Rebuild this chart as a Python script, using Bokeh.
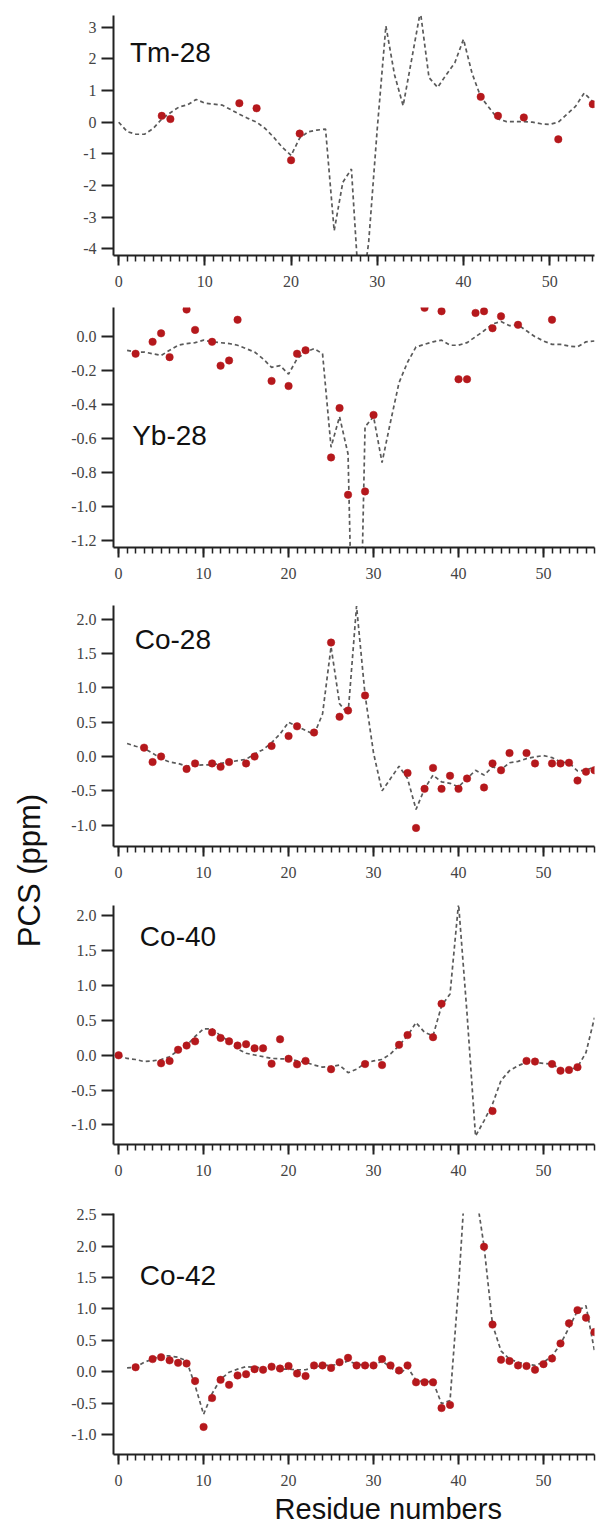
from bokeh.plotting import figure
from bokeh.models import Range1d, Label, FixedTicker, SingleIntervalTicker, CustomJSTickFormatter
from bokeh.layouts import column, row
from bokeh.embed import file_html
from bokeh.resources import INLINE

# ---------------- data ----------------
tm28_calc_res = list(range(0, 56))
tm28_calc = [0.0, -0.3, -0.38, -0.38, -0.2, 0.1, 0.3, 0.48, 0.55, 0.72,
             0.6, 0.57, 0.54, 0.4, 0.25, 0.12, 0.0, -0.2, -0.48, -0.8,
             -1.05, -0.5, -0.3, -0.25, -0.22, -3.43, -1.9, -1.48, -5.8, -3.8,
             -0.2, 3.04, 1.5, 0.52, 2.0, 3.5, 1.41, 1.1, 1.5, 1.88,
             2.62, 1.54, 0.8, 0.45, 0.1, 0.02, 0.02, 0.02, 0.0, -0.05,
             -0.07, 0.0, 0.25, 0.5, 0.92, 0.65]
tm28_obs_res = [5, 6, 14, 16, 20, 21, 42, 44, 47, 51, 55]
tm28_obs = [0.2, 0.1, 0.6, 0.44, -1.2, -0.36, 0.8, 0.2, 0.15, -0.54, 0.57]

yb28_calc_res = list(range(1, 57))
yb28_calc = [-0.08, -0.09, -0.09, -0.1, -0.11, -0.08, -0.05, -0.04, -0.035, -0.02,
             -0.03, -0.035, -0.04, -0.05, -0.07, -0.09, -0.13, -0.18, -0.17, -0.22,
             -0.13, -0.09, -0.07, -0.1, -0.65, -0.47, -0.69, -2.9, -0.53, -0.47,
             -0.74, -0.5, -0.27, -0.15, -0.06, -0.045, -0.03, -0.02, -0.05, -0.05,
             -0.035, 0.0, 0.035, 0.075, 0.09, 0.065, 0.07, 0.035, 0.0, -0.025,
             -0.045, -0.045, -0.055, -0.06, -0.03, -0.025]
yb28_obs_res = [2, 4, 5, 6, 8, 9, 11, 12, 13, 14, 18, 20, 21, 22, 25, 26, 27, 29, 30,
                36, 38, 40, 41, 42, 43, 44, 45, 47, 51]
yb28_obs = [-0.1, -0.03, 0.02, -0.12, 0.16, 0.04, -0.03, -0.17, -0.14, 0.1,
            -0.26, -0.29, -0.1, -0.08, -0.71, -0.42, -0.93, -0.91, -0.46,
            0.17, 0.15, -0.25, -0.25, 0.14, 0.15, 0.05, 0.12, 0.07, 0.1]

co28_calc_res = list(range(1, 57))
co28_calc = [0.19, 0.15, 0.12, 0.05, -0.03, -0.08, -0.1, -0.14, -0.13, -0.12,
             -0.12, -0.1, -0.08, -0.06, -0.04, 0.04, 0.1, 0.2, 0.33, 0.5,
             0.44, 0.38, 0.32, 0.62, 1.6, 0.77, 0.62, 2.19, 0.9, 0.05,
             -0.5, -0.32, -0.14, -0.32, -0.77, -0.47, -0.27, -0.37, -0.39, -0.44,
             -0.32, -0.2, -0.27, -0.15, -0.19, -0.09, -0.07, -0.03, -0.005, 0.015,
             -0.015, -0.08, -0.09, -0.21, -0.2, -0.15]
co28_obs_res = [3, 4, 5, 8, 9, 11, 12, 13, 15, 16, 18, 20, 21, 23, 25, 26, 27, 29,
                34, 35, 36, 37, 38, 39, 40, 41, 43, 44, 45, 46, 48, 49, 51, 52, 53,
                54, 55, 56]
co28_obs = [0.13, -0.08, 0.0, -0.18, -0.1, -0.1, -0.15, -0.08, -0.1, 0.0,
            0.155, 0.3, 0.44, 0.35, 1.66, 0.58, 0.67, 0.89, -0.24, -1.04,
            -0.47, -0.165, -0.47, -0.28, -0.47, -0.32, -0.45, -0.1, -0.2, 0.05,
            0.05, -0.1, -0.1, -0.1, -0.09, -0.35, -0.22, -0.2]

co40_calc_res = list(range(0, 57))
co40_calc = [0.0, -0.045, -0.06, -0.09, -0.08, -0.06, -0.02, 0.07, 0.14, 0.27,
             0.38, 0.38, 0.28, 0.2, 0.09, 0.03, 0.005, -0.02, -0.045, -0.05,
             -0.05, -0.08, -0.1, -0.14, -0.17, -0.16, -0.14, -0.25, -0.2, -0.115,
             -0.08, -0.06, 0.02, 0.14, 0.28, 0.47, 0.33, 0.28, 0.71, 0.88,
             2.18, 0.6, -1.16, -0.94, -0.7, -0.36, -0.22, -0.15, -0.1, -0.1,
             -0.115, -0.125, -0.2, -0.21, -0.17, 0.04, 0.54]
co40_obs_res = [0, 5, 6, 7, 8, 9, 11, 12, 13, 14, 15, 16, 17, 18, 19, 20, 21, 22, 25,
                29, 31, 33, 34, 37, 38, 44, 48, 49, 51, 52, 53, 54]
co40_obs = [0.0, -0.115, -0.08, 0.08, 0.14, 0.2, 0.33, 0.25, 0.2, 0.14,
            0.16, 0.1, 0.1, -0.12, 0.23, -0.05, -0.13, -0.08, -0.2, -0.125,
            -0.14, 0.15, 0.29, 0.26, 0.74, -0.8, -0.08, -0.09, -0.125, -0.22,
            -0.21, -0.17]

co42_calc_res = list(range(1, 57))
co42_calc = [0.06, 0.07, 0.15, 0.2, 0.25, 0.25, 0.23, 0.17, -0.22, -0.68,
             -0.35, -0.12, -0.01, 0.04, 0.08, 0.07, 0.06, 0.06, 0.04, 0.04,
             0.03, 0.03, 0.07, 0.1, 0.1, 0.12, 0.17, 0.12, 0.1, 0.1,
             0.17, 0.07, -0.04, 0.07, -0.14, -0.16, -0.16, -0.51, -0.46, 1.35,
             3.5, 2.9, 2.0, 0.75, 0.33, 0.2, 0.15, 0.12, 0.1, 0.15,
             0.25, 0.44, 0.7, 0.97, 1.05, 0.33]
co42_obs_res = [2, 4, 5, 6, 7, 8] + list(range(9, 40)) + list(range(43, 57))
co42_obs = [0.07, 0.2, 0.23, 0.18, 0.14, 0.13,
            -0.15, -0.88, -0.42, -0.13, -0.21, -0.06, -0.04, 0.04, 0.03, 0.08,
            0.05, 0.09, -0.03, -0.07, 0.1, 0.1, 0.06, 0.15, 0.22, 0.1,
            0.1, 0.1, 0.2, 0.1, 0.02, 0.1, -0.17, -0.17, -0.17, -0.58,
            -0.53,
            1.99, 0.75, 0.19, 0.17, 0.1, 0.09, 0.03, 0.12, 0.21, 0.45,
            0.77, 0.98, 0.86, 0.63]

panel_names = ["Tm-28", "Yb-28", "Co-28", "Co-40", "Co-42"]
tm28_yticks = [3, 2, 1, 0, -1, -2, -3, -4]
yb28_yticks = [0.0, -0.2, -0.4, -0.6, -0.8, -1.0, -1.2]
co28_yticks = [2.0, 1.5, 1.0, 0.5, 0.0, -0.5, -1.0]
co40_yticks = [2.0, 1.5, 1.0, 0.5, 0.0, -0.5, -1.0]
co42_yticks = [2.5, 2.0, 1.5, 1.0, 0.5, 0.0, -0.5, -1.0]
x_title = "Residue numbers"
y_title = "PCS (ppm)"

# ---------------- styling ----------------
SERIF = "Liberation Serif"
SANS = "Liberation Sans"
LABEL_COLOR = "#444444"
AXIS_COLOR = "#222222"
MARK_COLOR = "#b5181c"
LINE_COLOR = "#5a5a5a"
PANEL_W = 555


def make_panel(name, cx, cy, ox, oy, xr, yr, yticks, digits,
               height, top_b, bottom_b, right_b, lab_xy):
    p = figure(width=PANEL_W, height=height, output_backend="svg",
               toolbar_location=None, x_range=Range1d(*xr), y_range=Range1d(*yr),
               min_border_left=65, min_border_right=right_b,
               min_border_top=top_b, min_border_bottom=bottom_b)
    p.outline_line_color = None
    p.xgrid.visible = False
    p.ygrid.visible = False
    p.background_fill_color = "white"
    p.border_fill_color = "white"

    p.line(cx, cy, line_color=LINE_COLOR, line_width=1.7, line_dash="4 3")
    p.scatter(ox, oy, marker="circle", size=7.5, fill_color=MARK_COLOR,
              line_color=MARK_COLOR, line_width=0.5)

    xa = p.xaxis[0]
    xa.ticker = SingleIntervalTicker(interval=10, num_minor_ticks=10)
    xa.axis_line_color = AXIS_COLOR
    xa.axis_line_width = 2
    xa.major_tick_line_color = AXIS_COLOR
    xa.major_tick_line_width = 2
    xa.major_tick_out = 10
    xa.major_tick_in = 0
    xa.minor_tick_line_color = AXIS_COLOR
    xa.minor_tick_line_width = 1.5
    xa.minor_tick_out = 6
    xa.minor_tick_in = 0
    xa.major_label_standoff = 10
    xa.major_label_text_font = SERIF
    xa.major_label_text_font_size = "16px"
    xa.major_label_text_color = LABEL_COLOR

    ya = p.yaxis[0]
    ya.ticker = FixedTicker(ticks=yticks)
    ya.formatter = CustomJSTickFormatter(code="return tick.toFixed(%d);" % digits)
    ya.axis_line_color = AXIS_COLOR
    ya.axis_line_width = 2
    ya.major_tick_line_color = AXIS_COLOR
    ya.major_tick_line_width = 2
    ya.major_tick_out = 12
    ya.major_tick_in = 0
    ya.minor_tick_out = 0
    ya.minor_tick_in = 0
    ya.major_label_standoff = 5
    ya.major_label_text_font = SERIF
    ya.major_label_text_font_size = "16px"
    ya.major_label_text_color = LABEL_COLOR

    p.add_layout(Label(x=lab_xy[0], y=lab_xy[1], text=name, text_font=SANS,
                       text_font_size="28px", text_color="#111111",
                       text_align="left", text_baseline="middle"))
    return p


p1 = make_panel(panel_names[0], tm28_calc_res, tm28_calc, tm28_obs_res, tm28_obs,
                (-0.6, 55.2), (-4.21, 3.37), tm28_yticks, 0,
                295, 15, 40, 0, (1.3, 2.2))
p2 = make_panel(panel_names[1], yb28_calc_res, yb28_calc, yb28_obs_res, yb28_obs,
                (-0.6, 56.0), (-1.24, 0.172), yb28_yticks, 1,
                295, 12, 43, 9, (1.6, -0.58))
p3 = make_panel(panel_names[2], co28_calc_res, co28_calc, co28_obs_res, co28_obs,
                (-0.6, 56.0), (-1.31, 2.2), co28_yticks, 1,
                300, 15, 44, 9, (1.9, 1.71))
p4 = make_panel(panel_names[3], co40_calc_res, co40_calc, co40_obs_res, co40_obs,
                (-0.6, 56.0), (-1.28, 2.15), co40_yticks, 1,
                305, 15, 51, 9, (2.5, 1.71))
p5 = make_panel(panel_names[4], co42_calc_res, co42_calc, co42_obs_res, co42_obs,
                (-0.6, 56.0), (-1.32, 2.52), co42_yticks, 1,
                298, 18, 39, 9, (2.5, 1.54))

# bottom strip with the shared x-axis title
xlab = figure(width=PANEL_W, height=32, output_backend="svg", toolbar_location=None,
              x_range=Range1d(0, PANEL_W), y_range=Range1d(0, 32),
              min_border=0, min_border_left=0, min_border_right=0,
              min_border_top=0, min_border_bottom=0)
xlab.axis.visible = False
xlab.xgrid.visible = False
xlab.ygrid.visible = False
xlab.outline_line_color = None
xlab.add_layout(Label(x=317, y=17, text=x_title, text_font=SANS,
                      text_font_size="29px", text_color="#111111",
                      text_align="center", text_baseline="middle"))

# left strip holding the shared y-axis title
ylab = figure(width=48, height=1525, output_backend="svg", toolbar_location=None,
              x_range=Range1d(0, 48), y_range=Range1d(0, 1525),
              min_border=0, min_border_left=0, min_border_right=0,
              min_border_top=0, min_border_bottom=0)
ylab.axis.visible = False
ylab.xgrid.visible = False
ylab.ygrid.visible = False
ylab.outline_line_color = None
ylab.add_layout(Label(x=28.5, y=655, text=y_title, text_font=SANS,
                      text_font_size="31px", text_color="#111111", angle=1.5707963,
                      text_align="center", text_baseline="middle"))

layout = row(ylab, column(p1, p2, p3, p4, p5, xlab, spacing=0), spacing=0)

open("out.html", "w").write(file_html(layout, INLINE))
